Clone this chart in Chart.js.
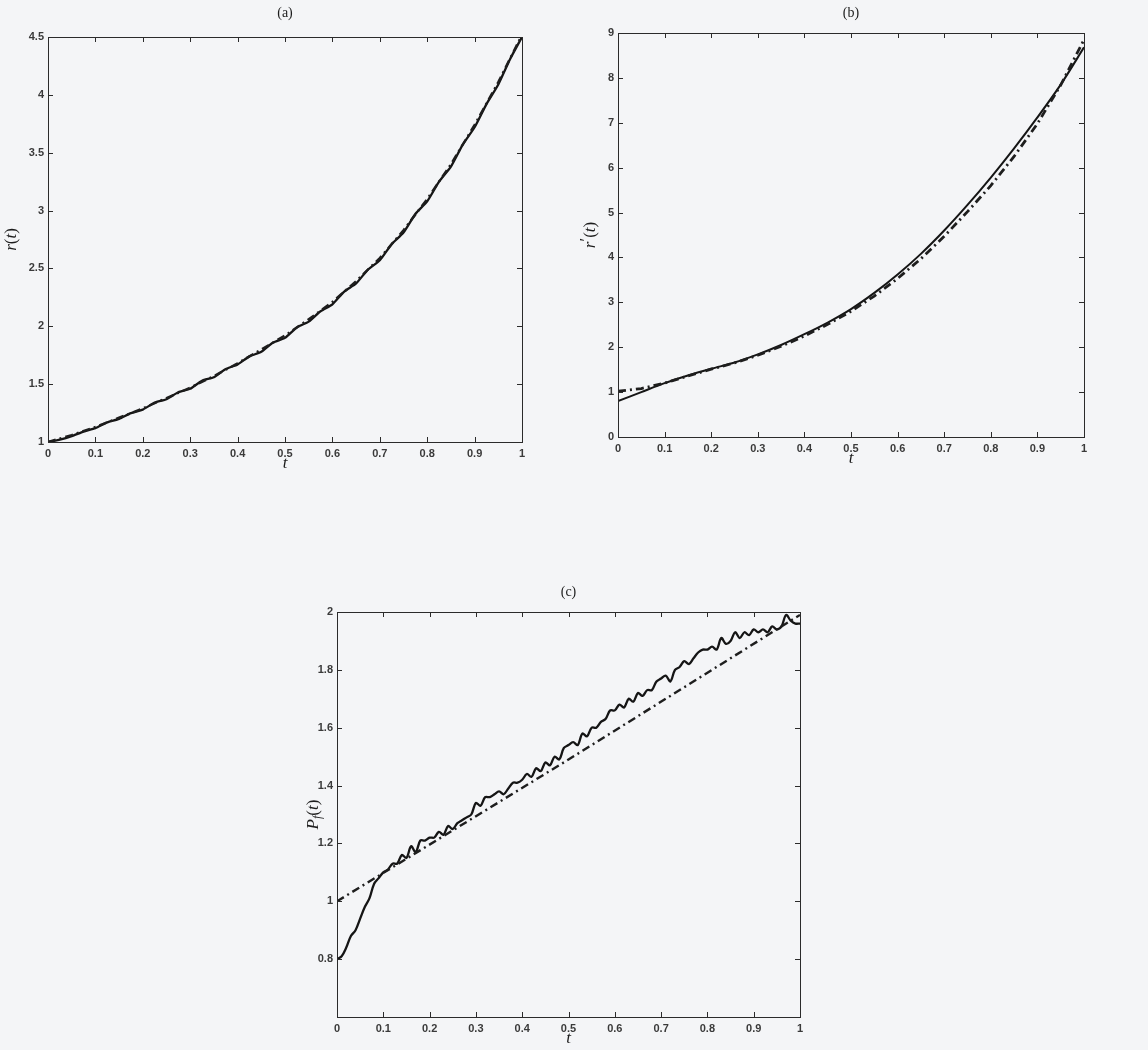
<!DOCTYPE html>
<html>
<head>
<meta charset="utf-8">
<script src="https://cdn.jsdelivr.net/npm/chart.js@4.4.1/dist/chart.umd.min.js"></script>
<style>
  html, body { margin: 0; padding: 0; background: #f4f5f7; }
  #page { position: relative; width: 1148px; height: 1050px; overflow: hidden; }
  canvas { position: absolute; }
</style>
</head>
<body>
<div id="page">
  <canvas id="chartA" width="560" height="480" style="left:0;top:0"></canvas>
  <canvas id="chartB" width="578" height="480" style="left:570px;top:0"></canvas>
  <canvas id="chartC" width="560" height="490" style="left:270px;top:560px"></canvas>
</div>
<script>
// ---- data ----
const xTicks = [0, 0.1, 0.2, 0.3, 0.4, 0.5, 0.6, 0.7, 0.8, 0.9, 1];
const xTickLabels = ['0', '0.1', '0.2', '0.3', '0.4', '0.5', '0.6', '0.7', '0.8', '0.9', '1'];

const yTicksA = [1, 1.5, 2, 2.5, 3, 3.5, 4, 4.5];
const yTickLabelsA = ['1', '1.5', '2', '2.5', '3', '3.5', '4', '4.5'];
const yTicksB = [0, 1, 2, 3, 4, 5, 6, 7, 8, 9];
const yTickLabelsB = ['0', '1', '2', '3', '4', '5', '6', '7', '8', '9'];
const yTicksC = [0.8, 1, 1.2, 1.4, 1.6, 1.8, 2];
const yTickLabelsC = ['0.8', '1', '1.2', '1.4', '1.6', '1.8', '2'];

// (a) r(t)
const tFine = [0, 0.025, 0.05, 0.075, 0.1, 0.125, 0.15, 0.175, 0.2, 0.225,
  0.25, 0.275, 0.3, 0.325, 0.35, 0.375, 0.4, 0.425, 0.45, 0.475,
  0.5, 0.525, 0.55, 0.575, 0.6, 0.625, 0.65, 0.675, 0.7, 0.725,
  0.75, 0.775, 0.8, 0.825, 0.85, 0.875, 0.9, 0.925, 0.95, 0.975, 1];
const rSolid = [1.00, 1.02, 1.05, 1.09, 1.12, 1.17, 1.20, 1.25, 1.28, 1.34,
  1.37, 1.43, 1.46, 1.53, 1.56, 1.63, 1.67, 1.74, 1.78, 1.86,
  1.90, 1.99, 2.04, 2.13, 2.19, 2.30, 2.37, 2.49, 2.57, 2.71,
  2.81, 2.97, 3.08, 3.25, 3.38, 3.57, 3.72, 3.92, 4.09, 4.31, 4.50];

const tCoarse = [0, 0.05, 0.1, 0.15, 0.2, 0.25, 0.3, 0.35, 0.4, 0.45,
  0.5, 0.55, 0.6, 0.65, 0.7, 0.75, 0.8, 0.85, 0.9, 0.95, 1];
const rApprox = [1.00, 1.06, 1.13, 1.21, 1.29, 1.38, 1.47, 1.57, 1.68, 1.80,
  1.92, 2.06, 2.21, 2.39, 2.59, 2.83, 3.10, 3.40, 3.74, 4.11, 4.52];

// (b) r'(t)
const drSolid = [0.80, 1.00, 1.20, 1.37, 1.52, 1.66, 1.84, 2.05, 2.29, 2.55,
  2.85, 3.21, 3.62, 4.08, 4.60, 5.17, 5.78, 6.43, 7.12, 7.85, 8.68];
const drApprox = [1.02, 1.08, 1.20, 1.36, 1.51, 1.65, 1.82, 2.02, 2.25, 2.51,
  2.80, 3.14, 3.53, 3.97, 4.47, 5.02, 5.60, 6.25, 6.98, 7.84, 8.85];

// (c) P_f(t)
const tC = [0, 0.01, 0.02, 0.03, 0.04, 0.05, 0.06, 0.07, 0.08, 0.09,
  0.1, 0.11, 0.12, 0.13, 0.14, 0.15, 0.16, 0.17, 0.18, 0.19,
  0.2, 0.21, 0.22, 0.23, 0.24, 0.25, 0.26, 0.27, 0.28, 0.29,
  0.3, 0.31, 0.32, 0.33, 0.34, 0.35, 0.36, 0.37, 0.38, 0.39,
  0.4, 0.41, 0.42, 0.43, 0.44, 0.45, 0.46, 0.47, 0.48, 0.49,
  0.5, 0.51, 0.52, 0.53, 0.54, 0.55, 0.56, 0.57, 0.58, 0.59,
  0.6, 0.61, 0.62, 0.63, 0.64, 0.65, 0.66, 0.67, 0.68, 0.69,
  0.7, 0.71, 0.72, 0.73, 0.74, 0.75, 0.76, 0.77, 0.78, 0.79,
  0.8, 0.81, 0.82, 0.83, 0.84, 0.85, 0.86, 0.87, 0.88, 0.89,
  0.9, 0.91, 0.92, 0.93, 0.94, 0.95, 0.96, 0.97, 0.98, 0.99, 1];
const pfSolid = [0.80, 0.81, 0.84, 0.88, 0.90, 0.94, 0.98, 1.01, 1.06, 1.08,
  1.10, 1.11, 1.13, 1.13, 1.16, 1.15, 1.19, 1.17, 1.21, 1.21,
  1.22, 1.22, 1.24, 1.23, 1.26, 1.25, 1.27, 1.28, 1.29, 1.30,
  1.34, 1.33, 1.36, 1.36, 1.37, 1.38, 1.37, 1.39, 1.41, 1.41,
  1.42, 1.44, 1.43, 1.46, 1.45, 1.48, 1.47, 1.50, 1.49, 1.53,
  1.54, 1.55, 1.54, 1.58, 1.57, 1.60, 1.60, 1.62, 1.63, 1.66,
  1.66, 1.68, 1.67, 1.70, 1.69, 1.72, 1.71, 1.73, 1.73, 1.76,
  1.77, 1.78, 1.76, 1.80, 1.81, 1.83, 1.82, 1.84, 1.86, 1.87,
  1.87, 1.88, 1.87, 1.91, 1.89, 1.90, 1.93, 1.91, 1.93, 1.92,
  1.94, 1.93, 1.94, 1.93, 1.95, 1.94, 1.95, 1.99, 1.97, 1.96, 1.96];
const tLine = [0, 0.25, 0.5, 0.75, 1];
const pfApprox = [1.00, 1.245, 1.49, 1.74, 1.99];

// ---- drawing ----
const INK = '#151515';
const SANS = "'Liberation Sans', Arial, sans-serif";
const SERIF = "'Liberation Serif', 'DejaVu Serif', serif";

function pts(xs, ys) {
    return xs.map((x, i) => ({ x: x, y: ys[i] }));
}

// frame, inward ticks and the LaTeX-ish labels
const framePlugin = {
    id: 'frame',
    afterDatasetsDraw(chart, args, opts) {
        const { ctx, chartArea: a } = chart;
        const x = chart.scales.x, y = chart.scales.y;
        ctx.save();
        ctx.strokeStyle = '#2b2b2b';
        ctx.lineWidth = 1;
        ctx.strokeRect(a.left + 0.5, a.top + 0.5, a.right - a.left, a.bottom - a.top);

        const len = 5;
        ctx.beginPath();
        x.ticks.forEach(t => {
            const px = Math.round(x.getPixelForValue(t.value)) + 0.5;
            ctx.moveTo(px, a.bottom); ctx.lineTo(px, a.bottom - len);
            ctx.moveTo(px, a.top); ctx.lineTo(px, a.top + len);
        });
        y.ticks.forEach(t => {
            const py = Math.round(y.getPixelForValue(t.value)) + 0.5;
            ctx.moveTo(a.left, py); ctx.lineTo(a.left + len, py);
            ctx.moveTo(a.right, py); ctx.lineTo(a.right - len, py);
        });
        ctx.stroke();

        const cx = (a.left + a.right) / 2;
        ctx.fillStyle = '#1c1c1c';
        ctx.textAlign = 'center';
        ctx.textBaseline = 'middle';
        ctx.font = '14px ' + SERIF;
        ctx.fillText(opts.title, cx, a.top + opts.titleDy);
        ctx.font = 'italic 17px ' + SERIF;
        ctx.fillText('t', cx, a.bottom + 22);

        // rotated y label built from parts
        ctx.translate(a.left + opts.yLabelDx, (a.top + a.bottom) / 2);
        ctx.rotate(-Math.PI / 2);
        const fontOf = p => (p.it ? 'italic ' : '') + (p.sub ? '12px ' : '17px ') + SERIF;
        let w = 0;
        opts.yLabel.forEach(p => { ctx.font = fontOf(p); w += ctx.measureText(p.s).width; });
        let cur = -w / 2;
        ctx.textAlign = 'left';
        opts.yLabel.forEach(p => {
            ctx.font = fontOf(p);
            const dy = p.sub ? 4 : (p.sup ? -4 : 0);
            ctx.fillText(p.s, cur, dy);
            cur += ctx.measureText(p.s).width;
        });
        ctx.restore();
    }
};

function makePlot(id, cfg) {
    const canvas = document.getElementById(id);
    const H = canvas.height;
    return new Chart(canvas, {
        type: 'line',
        data: { datasets: cfg.datasets },
        options: {
            responsive: false,
            devicePixelRatio: 1,
            animation: false,
            events: [],
            layout: { padding: { top: cfg.area.top, right: canvas.width - cfg.area.right, left: 0, bottom: 0 } },
            plugins: {
                legend: { display: false },
                tooltip: { enabled: false },
                frame: { title: cfg.title, titleDy: cfg.titleDy, yLabel: cfg.yLabel, yLabelDx: cfg.yLabelDx }
            },
            scales: {
                x: {
                    type: 'linear',
                    min: 0, max: 1,
                    afterBuildTicks: s => { s.ticks = xTicks.map(v => ({ value: v })); },
                    afterFit: s => { s.height = H - cfg.area.bottom; },
                    grid: { display: false, drawTicks: false },
                    border: { display: false },
                    ticks: {
                        padding: 5,
                        color: '#3a3a3a',
                        font: { family: SANS, size: 11, weight: 'bold' },
                        maxRotation: 0,
                        autoSkip: false,
                        callback: v => xTickLabels[xTicks.indexOf(Math.round(v * 10) / 10)]
                    }
                },
                y: {
                    type: 'linear',
                    min: cfg.yMin, max: cfg.yMax,
                    afterBuildTicks: s => { s.ticks = cfg.yTicks.map(v => ({ value: v })); },
                    afterFit: s => { s.width = cfg.area.left; },
                    grid: { display: false, drawTicks: false },
                    border: { display: false },
                    ticks: {
                        padding: 4,
                        color: '#3a3a3a',
                        font: { family: SANS, size: 11, weight: 'bold' },
                        autoSkip: false,
                        callback: v => {
                            const i = cfg.yTicks.findIndex(t => Math.abs(t - v) < 1e-9);
                            return i >= 0 ? cfg.yTickLabels[i] : '';
                        }
                    }
                }
            }
        },
        plugins: [framePlugin]
    });
}

const solidStyle = { borderColor: INK, borderWidth: 2, pointRadius: 0, tension: 0, fill: false };
const dashStyle = { borderColor: '#1e1e1e', borderWidth: 2.4, borderDash: [8, 4, 2, 4], pointRadius: 0, tension: 0, fill: false };

makePlot('chartA', {
    area: { left: 48, right: 522, top: 37, bottom: 442 },
    yMin: 1, yMax: 4.5, yTicks: yTicksA, yTickLabels: yTickLabelsA,
    title: '(a)', titleDy: -24,
    yLabelDx: -36,
    yLabel: [{ s: 'r', it: true }, { s: '(' }, { s: 't', it: true }, { s: ')' }],
    datasets: [
        Object.assign({ label: 'approx', data: pts(tCoarse, rApprox) }, dashStyle),
        Object.assign({ label: 'exact', data: pts(tFine, rSolid) }, solidStyle, { borderWidth: 2.3, tension: 0.2 })
    ]
});

makePlot('chartB', {
    area: { left: 48, right: 514, top: 33, bottom: 437 },
    yMin: 0, yMax: 9, yTicks: yTicksB, yTickLabels: yTickLabelsB,
    title: '(b)', titleDy: -20,
    yLabelDx: -27,
    yLabel: [{ s: 'r', it: true }, { s: '\u2032', sup: true }, { s: '(' }, { s: 't', it: true }, { s: ')' }],
    datasets: [
        Object.assign({ label: 'approx', data: pts(tCoarse, drApprox) }, dashStyle, { borderWidth: 2.8 }),
        Object.assign({ label: 'exact', data: pts(tCoarse, drSolid) }, solidStyle, { tension: 0.3 })
    ]
});

makePlot('chartC', {
    area: { left: 67, right: 530, top: 52, bottom: 457 },
    yMin: 0.6, yMax: 2, yTicks: yTicksC, yTickLabels: yTickLabelsC,
    title: '(c)', titleDy: -20,
    yLabelDx: -23,
    yLabel: [{ s: 'P', it: true }, { s: 'f', it: true, sub: true }, { s: '(' }, { s: 't', it: true }, { s: ')' }],
    datasets: [
        Object.assign({ label: 'exact', data: pts(tLine, pfApprox) }, dashStyle),
        Object.assign({ label: 'approx', data: pts(tC, pfSolid) }, solidStyle, { borderWidth: 2.3, tension: 0.35 })
    ]
});
</script>
</body>
</html>
